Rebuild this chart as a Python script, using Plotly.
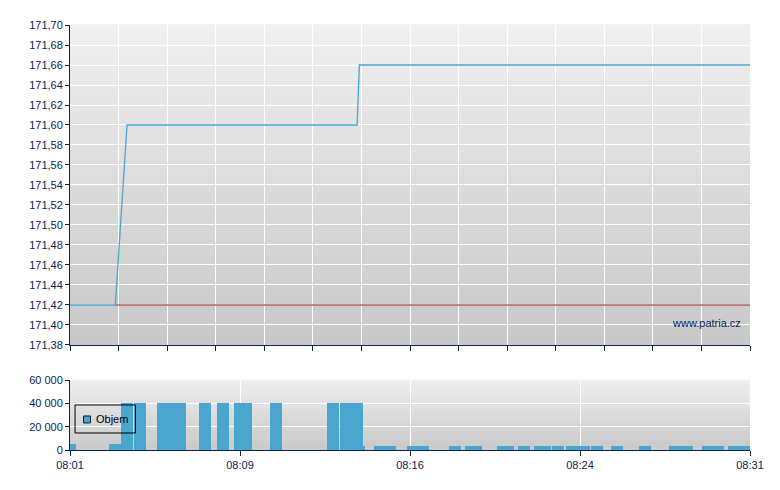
import plotly.graph_objects as go

DAY = "2024-01-02 "

# price line (time, price)
price_times = ["08:01:00", "08:03:00", "08:03:31", "08:13:40", "08:13:46", "08:31:00"]
price_values = [171.42, 171.42, 171.60, 171.60, 171.66, 171.66]

# reference (previous close) line
ref_times = ["08:03:00", "08:31:00"]
ref_values = [171.42, 171.42]

# volume bars
vol_times = ["08:01:00", "08:03:00", "08:03:31", "08:04:05", "08:05:06", "08:05:27",
             "08:05:51", "08:06:57", "08:07:45", "08:08:30", "08:08:46", "08:10:05",
             "08:12:36", "08:13:11", "08:13:40", "08:13:45", "08:14:41", "08:15:07",
             "08:16:08", "08:16:34", "08:17:59", "08:18:41", "08:18:55", "08:20:06",
             "08:20:19", "08:21:02", "08:21:44", "08:21:57", "08:22:32", "08:23:09",
             "08:23:41", "08:24:15", "08:25:08", "08:26:22", "08:27:41", "08:28:13",
             "08:29:09", "08:29:35", "08:30:18", "08:30:44"]
vol_values = [5000, 5000, 40000, 40000, 40000, 40000,
              40000, 40000, 40000, 40000, 40000, 40000,
              40000, 40000, 40000, 3500, 3500, 3500,
              3500, 3500, 3500, 3500, 3500, 3500,
              3500, 3500, 3500, 3500, 3500, 3500,
              3500, 3500, 3500, 3500, 3500, 3500,
              3500, 3500, 3500, 3500]

# axis ticks
x_start, x_end = "08:01:00", "08:31:00"
vol_tick_times = ["08:01:00", "08:08:30", "08:16:00", "08:23:30", "08:31:00"]
vol_tick_labels = ["08:01", "08:09", "08:16", "08:24", "08:31"]
price_ticks = [171.38, 171.40, 171.42, 171.44, 171.46, 171.48, 171.50, 171.52, 171.54,
               171.56, 171.58, 171.60, 171.62, 171.64, 171.66, 171.68, 171.70]
vol_ticks = [0, 20000, 40000, 60000]
legend_label = "Objem"

BLUE = "#4aa6cf"
NAVY = "#0b2356"
GRID = "#ffffff"
FONT = "Liberation Sans, Arial, sans-serif"

def d(t):
    return DAY + t

fig = go.Figure()

fig.add_trace(go.Scatter(x=[d(t) for t in ref_times], y=ref_values, mode="lines",
                         line=dict(color="#9c1f1f", width=1), showlegend=False,
                         xaxis="x", yaxis="y", hoverinfo="skip"))
fig.add_trace(go.Scatter(x=[d(t) for t in price_times], y=price_values, mode="lines",
                         line=dict(color=BLUE, width=1.3), showlegend=False,
                         xaxis="x", yaxis="y"))

fig.add_trace(go.Bar(x=[d(t) for t in vol_times], y=vol_values, width=31800,
                     marker=dict(color=BLUE, line=dict(width=0)), showlegend=False,
                     name=legend_label, xaxis="x2", yaxis="y2"))

# gradient backgrounds
shapes = []
N = 48
for yref, xref in (("y domain", "x domain"), ("y2 domain", "x2 domain")):
    for i in range(N):
        f = (i + 0.5) / N
        c = int(round(200 + (239 - 200) * f))
        shapes.append(dict(type="rect", xref=xref, yref=yref, x0=0, x1=1,
                           y0=i / N, y1=(i + 1) / N + 0.002, layer="below",
                           line=dict(width=0), fillcolor=f"rgb({c},{c},{c})"))

# legend box drawn by hand (matches the compact original legend)
shapes.append(dict(type="rect", xref="x2 domain", yref="y2 domain",
                   x0=0.0074, x1=0.0963, y0=0.243, y1=0.643, layer="above",
                   line=dict(color="#000000", width=1), fillcolor="rgba(0,0,0,0)"))
shapes.append(dict(type="rect", xref="x2 domain", yref="y2 domain",
                   x0=0.0199, x1=0.0301, y0=0.386, y1=0.486, layer="above",
                   line=dict(color="#0a1a3a", width=1), fillcolor=BLUE))

xr = [d(x_start), d(x_end)]
fig.update_layout(
    width=780, height=490,
    margin=dict(l=62, r=38, t=17, b=48),
    paper_bgcolor="white", plot_bgcolor="#dcdcdc",
    separators=", ",
    font=dict(family=FONT, size=11, color=NAVY),
    shapes=shapes,
    barmode="overlay",
    bargap=0,
    showlegend=False,
    xaxis=dict(type="date", range=xr, domain=[0, 1], anchor="y",
               tick0=d(x_start), dtick=30 * 60000 / 14, showticklabels=False,
               ticks="outside", ticklen=5, tickcolor=NAVY,
               showgrid=True, gridcolor=GRID, gridwidth=1,
               showline=True, linecolor=NAVY, linewidth=1, zeroline=False),
    yaxis=dict(range=[171.38, 171.70], domain=[0.2471, 1], anchor="x",
               tickvals=price_ticks, tickformat=".2f",
               ticks="outside", ticklen=4, tickcolor=NAVY,
               showgrid=True, gridcolor=GRID, gridwidth=1,
               showline=True, linecolor=NAVY, linewidth=1, zeroline=False,
               tickfont=dict(size=11, color=NAVY)),
    xaxis2=dict(type="date", range=xr, domain=[0, 1], anchor="y2",
                tickvals=[d(t) for t in vol_tick_times], ticktext=vol_tick_labels,
                ticks="outside", ticklen=5, tickcolor=NAVY,
                showgrid=True, gridcolor=GRID, gridwidth=1,
                showline=True, linecolor=NAVY, linewidth=1, zeroline=False,
                tickfont=dict(size=11, color=NAVY)),
    yaxis2=dict(range=[0, 60000], domain=[0, 0.1647], anchor="x2",
                tickvals=vol_ticks, tickformat=",d",
                ticks="outside", ticklen=4, tickcolor=NAVY,
                showgrid=True, gridcolor=GRID, gridwidth=1,
                showline=True, linecolor=NAVY, linewidth=1, zeroline=False,
                tickfont=dict(size=11, color=NAVY)),
    annotations=[
        dict(text="www.patria.cz", xref="x domain", yref="y domain",
             x=0.989, y=0.07, xanchor="right", yanchor="middle",
             showarrow=False, font=dict(size=11, color=NAVY)),
        dict(text=legend_label, xref="x2 domain", yref="y2 domain",
             x=0.035, y=0.436, xanchor="left", yanchor="middle",
             showarrow=False, font=dict(size=11, color="#000000")),
    ],
)

fig.write_html("out.html")
